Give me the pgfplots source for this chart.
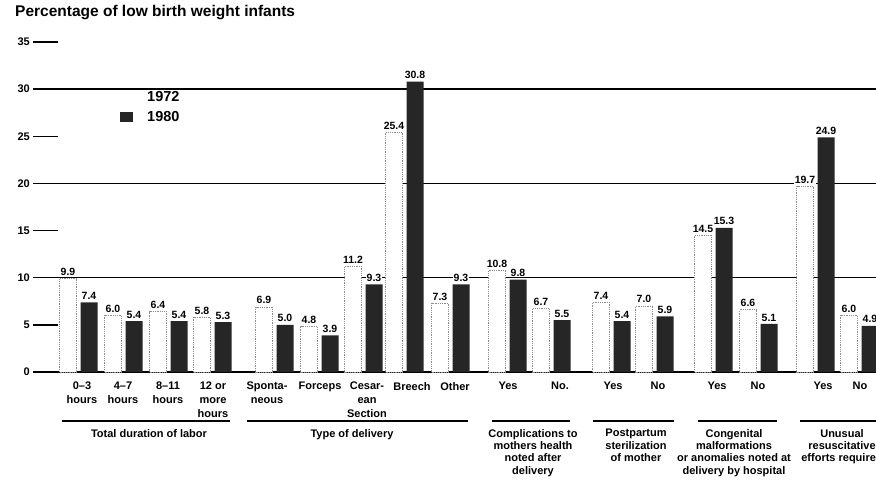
\documentclass[border=0pt]{standalone}
\usepackage{pgfplots}
\pgfplotsset{compat=1.18}
\usepackage{pgfplotstable}
\usepackage{fontspec}
\setmainfont{Liberation Sans}

\pgfplotstableread{
x80 x72 y72 y80
89 68 9.9 7.4
134 113 6.0 5.4
179 158 6.4 5.4
223 202 5.8 5.3
285 264 6.9 5.0
330 309 4.8 3.9
374 353 11.2 9.3
415 394 25.4 30.8
461 440 7.3 9.3
518 497 10.8 9.8
562 541 6.7 5.5
622 601 7.4 5.4
665 644 7.0 5.9
724 703 14.5 15.3
769 748 6.6 5.1
826 805 19.7 24.9
870 849 6.0 4.9
}\data

\begin{document}
\begin{tikzpicture}[x=1pt,y=1pt]
\useasboundingbox (0,0) rectangle (876,488);
\clip (0,0) rectangle (876,488);
\begin{axis}[
  at={(33,123)}, anchor=south west,
  scale only axis, width=843pt, height=330pt,
  xmin=33, xmax=876, ymin=0, ymax=35,
  axis line style={draw=none},
  ytick={0,5,...,35}, yticklabels={0,5,10,15,20,25,30,35},
  ytick pos=left,
  tick align=inside, major tick length=25pt,
  ytick style={black, line width=1.5pt},
  yticklabel style={font=\bfseries\fontsize{11}{12}\selectfont, anchor=east, inner sep=0pt, xshift=-3pt},
  extra y ticks={0,10,20,30}, extra y tick labels={},
  extra y tick style={grid=major, major grid style={black, line width=1.5pt}},
  xtick={82,123,168,213,267,320,367,412,455,508,560,613,658,717,758,823,860},
  xticklabels={{0--3\\hours},{4--7\\hours},{8--11\\hours},{12 or\\more\\hours},{Sponta-\\neous},Forceps,{Cesar-\\ean\\Section},Breech,Other,Yes,No.,Yes,No,Yes,No,Yes,No},
  xtick style={draw=none},
  xticklabel style={font=\bfseries\fontsize{11}{14}\selectfont, align=center, anchor=north, inner sep=0pt, yshift=-10pt},
  /pgf/number format/.cd, fixed, fixed zerofill, precision=1, assume math mode=true, /pgfplots/.cd,
  nodes near coords,
  nodes near coords style={font=\bfseries\fontsize{10.5}{12}\selectfont, fill=white, inner sep=0.6pt, yshift=2pt, solid, text=black},
  legend cell align=left,
  legend style={at={(rel axis cs:0.1032,0.85)}, anchor=north west, draw=none, fill=none,
    font=\bfseries\fontsize{14.5}{16}\selectfont, inner sep=0pt, row sep=8pt, nodes={inner sep=0pt},
    /tikz/every odd column/.append style={column sep=14pt}},
]
\addplot[ybar, bar width=17, bar shift=0, fill=white, draw=black!45, densely dotted, line width=0.8pt,
  legend image code/.code={\path[draw=none, fill=none] (0pt,-5pt) rectangle (13pt,5pt);}]
  table[x=x72, y=y72]{\data};
\addlegendentry{1972}
\addplot[ybar, bar width=17, bar shift=0, fill=black!85, draw=none,
  legend image code/.code={\fill[black!85] (0pt,-5pt) rectangle (13pt,5pt);}]
  table[x=x80, y=y80]{\data};
\addlegendentry{1980}
\end{axis}
\node[anchor=west, inner sep=0pt, font=\bfseries\fontsize{15.5}{18}\selectfont] at (15,475) {Percentage of low birth weight infants};
\begin{scope}[line width=1.5pt]
\draw (62,67) -- (230,67);
\draw (247,67) -- (468,67);
\draw (492,67) -- (570,67);
\draw (593,67) -- (674,67);
\draw (698,67) -- (777,67);
\draw (800,67) -- (900,67);
\end{scope}
\begin{scope}[every node/.style={anchor=north, align=center, inner sep=0pt, font=\bfseries\fontsize{11}{12.3}\selectfont}]
\node at (149,59) {Total duration of labor};
\node at (352,59) {Type of delivery};
\node at (533,59) {Complications to\\mothers health\\noted after\\delivery};
\node at (636,59) {Postpartum\\sterilization\\of mother};
\node at (734,59) {Congenital\\malformations\\or anomalies noted at\\delivery by hospital};
\node at (842,59) {Unusual\\resuscitative\\efforts required};
\end{scope}
\end{tikzpicture}
\end{document}
